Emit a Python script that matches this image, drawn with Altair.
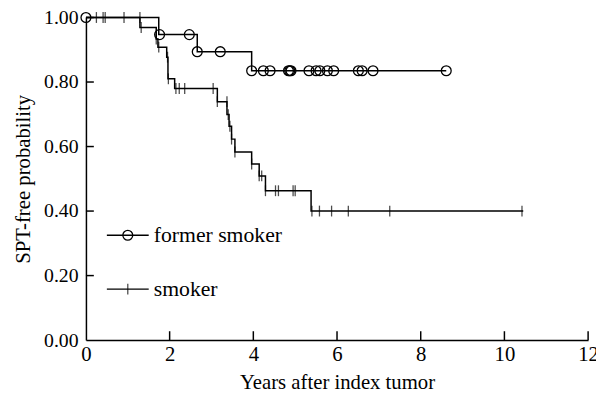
import altair as alt
import pandas as pd

FONT = "Liberation Serif"

# Kaplan-Meier step curves (event times and survival levels)
former_x = [0.0, 1.74, 2.66, 3.96, 8.61]
former_y = [1.0, 0.947, 0.894, 0.835, 0.835]

smoker_x = [0.0, 1.29, 1.68, 1.72, 1.93, 1.96, 2.12, 3.14, 3.37, 3.42, 3.48, 3.56,
            3.96, 4.14, 4.29, 5.38, 10.45]
smoker_y = [1.0, 0.969, 0.933, 0.908, 0.877, 0.81, 0.78, 0.739, 0.699, 0.663, 0.623,
            0.583, 0.546, 0.509, 0.463, 0.40, 0.40]

# censored observations
former_cx = [0.0, 1.76, 2.47, 2.66, 3.21, 3.96, 4.24, 4.40, 4.84, 4.87, 4.90,
             5.33, 5.50, 5.59, 5.77, 5.92, 6.51, 6.60, 6.86, 8.61]
former_cy = [1.0, 0.947, 0.947, 0.894, 0.894, 0.835, 0.835, 0.835, 0.835, 0.835, 0.835,
             0.835, 0.835, 0.835, 0.835, 0.835, 0.835, 0.835, 0.835, 0.835]

smoker_cx = [0.25, 0.41, 0.46, 0.91, 1.29, 1.32, 1.68, 1.74, 1.95, 1.97, 2.15, 2.23,
             2.36, 3.04, 3.14, 3.37, 3.40, 3.44, 3.48, 3.56, 3.96, 4.14, 4.20, 4.29,
             4.53, 4.60, 4.95, 5.00, 5.40, 5.58, 5.87, 6.27, 7.26, 10.42]
smoker_cy = [1.0, 1.0, 1.0, 1.0, 1.0, 0.969, 0.933, 0.908, 0.877, 0.81, 0.78, 0.78,
             0.78, 0.78, 0.739, 0.739, 0.699, 0.663, 0.623, 0.583, 0.546, 0.509, 0.509, 0.463,
             0.463, 0.463, 0.463, 0.463, 0.40, 0.40, 0.40, 0.40, 0.40, 0.40]

x_ticks = [2, 4, 6, 8, 10, 12]
y_ticks = [0.2, 0.4, 0.6, 0.8, 1.0]

legend_labels = ["former smoker", "smoker"]
legend_y = [0.325, 0.158]
legend_line_x = [0.5, 1.5]
legend_sym_x = 1.0
legend_text_x = 1.62

W, H = 509, 327

xs = alt.Scale(domain=[0, 12], nice=False, padding=0, zero=False)
ys = alt.Scale(domain=[0, 1], nice=False, padding=0, zero=False)

xax = alt.Axis(values=[0, 2, 4, 6, 8, 10, 12], ticks=False, grid=False, domainColor="black",
               domainWidth=1.5, labelFont=FONT, labelFontSize=21, labelColor="black",
               labelPadding=4, labelFlush=False, labelOverlap=False,
               title="Years after index tumor", titleFont=FONT,
               titleFontSize=21, titleFontWeight="normal", titleColor="black", titlePadding=7)
yax = alt.Axis(values=[0, 0.2, 0.4, 0.6, 0.8, 1.0], format=".2f", ticks=False, grid=False,
               domainColor="black", domainWidth=1.5, labelFont=FONT, labelFontSize=20,
               labelColor="black", labelPadding=8, labelFlush=False, labelOverlap=False,
               title="SPT-free probability",
               titleFont=FONT, titleFontSize=21, titleFontWeight="normal",
               titleColor="black", titlePadding=10)

curves = pd.DataFrame({
    "x": former_x + smoker_x,
    "y": former_y + smoker_y,
    "g": ["former"] * len(former_x) + ["smoker"] * len(smoker_x),
})
fc = pd.DataFrame({"x": former_cx, "y": former_cy})
sc = pd.DataFrame({"x": smoker_cx, "y": smoker_cy})

base_x = alt.X("x:Q", scale=xs, axis=xax)
base_y = alt.Y("y:Q", scale=ys, axis=yax)

lines = alt.Chart(curves).mark_line(interpolate="step-after", color="black",
                                    strokeWidth=1.5).encode(
    x=base_x, y=base_y, detail="g:N")

circles = alt.Chart(fc).mark_point(shape="circle", filled=False, color="black",
                                   size=100, strokeWidth=1.3, opacity=1).encode(
    x=alt.X("x:Q", scale=xs), y=alt.Y("y:Q", scale=ys))

crosses = alt.Chart(sc).mark_tick(orient="vertical", color="black", size=11,
                                  thickness=1.3).encode(
    x=alt.X("x:Q", scale=xs), y=alt.Y("y:Q", scale=ys))

xt = alt.Chart(pd.DataFrame({"x": x_ticks})).mark_rule(color="black", strokeWidth=1.5).encode(
    x=alt.X("x:Q", scale=xs), y=alt.value(H), y2=alt.value(H - 9))
yt = alt.Chart(pd.DataFrame({"y": y_ticks})).mark_rule(color="black", strokeWidth=1.5).encode(
    y=alt.Y("y:Q", scale=ys), x=alt.value(0), x2=alt.value(8))

leg_lines = pd.DataFrame({
    "x": [legend_line_x[0], legend_line_x[1], legend_line_x[0], legend_line_x[1]],
    "y": [legend_y[0], legend_y[0], legend_y[1], legend_y[1]],
    "g": ["a", "a", "b", "b"],
})
ll = alt.Chart(leg_lines).mark_line(color="black", strokeWidth=1.3).encode(
    x=alt.X("x:Q", scale=xs), y=alt.Y("y:Q", scale=ys), detail="g:N")
lc = alt.Chart(pd.DataFrame({"x": [legend_sym_x], "y": [legend_y[0]]})).mark_point(
    shape="circle", filled=False, color="black", size=100, strokeWidth=1.3, opacity=1).encode(
    x=alt.X("x:Q", scale=xs), y=alt.Y("y:Q", scale=ys))
lx = alt.Chart(pd.DataFrame({"x": [legend_sym_x], "y": [legend_y[1]]})).mark_tick(
    orient="vertical", color="black", size=11, thickness=1.3).encode(
    x=alt.X("x:Q", scale=xs), y=alt.Y("y:Q", scale=ys))
lt = alt.Chart(pd.DataFrame({"x": [legend_text_x] * 2, "y": legend_y, "t": legend_labels})).mark_text(
    align="left", baseline="middle", font=FONT, fontSize=22, color="black").encode(
    x=alt.X("x:Q", scale=xs), y=alt.Y("y:Q", scale=ys), text="t:N")

chart = alt.layer(lines, circles, crosses, xt, yt, ll, lc, lx, lt).properties(
    width=W, height=H,
    autosize=alt.AutoSizeParams(type="none"),
    padding={"left": 79, "top": 7, "right": 8, "bottom": 52},
    background="white",
).configure_view(stroke=None).configure_text(font=FONT)

chart.save("out.html", embed_options={"renderer": "svg", "actions": False})
